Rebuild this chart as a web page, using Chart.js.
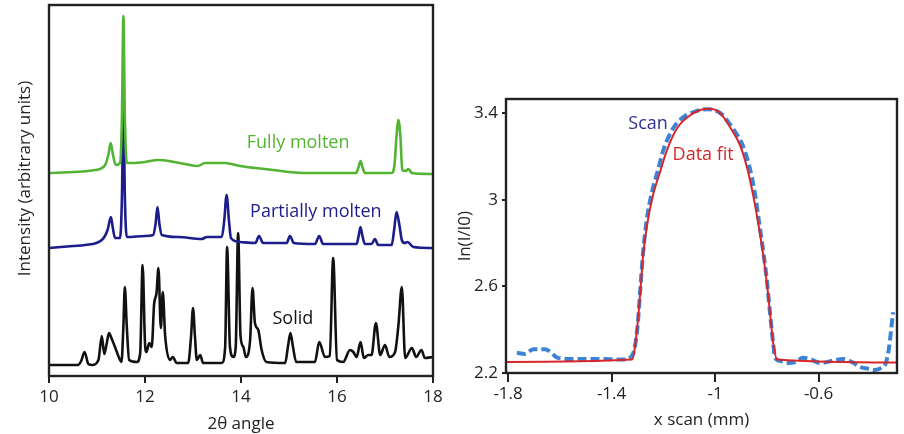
<!DOCTYPE html>
<html lang="en">
<head>
<meta charset="UTF-8">
<title>XRD patterns and scan profile</title>
<script src="https://cdn.jsdelivr.net/npm/chart.js"></script>
<style>
  html, body { margin: 0; padding: 0; background: #fff; }
  #wrap { position: relative; width: 904px; height: 434px; }
  #xrdBox { position: absolute; left: 0; top: 0; width: 450px; height: 434px; }
  #scanBox { position: absolute; left: 450px; top: 0; width: 454px; height: 434px; }
</style>
</head>
<body>
<div id="wrap">
  <div id="xrdBox"><canvas id="xrdChart" width="450" height="434"></canvas></div>
  <div id="scanBox"><canvas id="scanChart" width="454" height="434"></canvas></div>
</div>
<script>
// left panel: [2theta, intensity] pairs, arbitrary units, curves stacked as in the figure
const fullyMolten = [[10.0,203],[10.5,204],[10.96,206],[11.17,211],[11.24,222],[11.285,233],[11.33,222],[11.39,211],
  [11.48,213],[11.52,260],[11.55,360],[11.58,260],[11.62,213],[11.72,213],[12.0,214],[12.27,216],[12.5,215],
  [12.83,212],[13.1,210],[13.25,213],[13.67,213],[13.98,210],[14.3,208],[14.67,206],[15.0,204],[15.37,203],
  [16.0,203],[16.4,203],[16.45,209],[16.49,215],[16.53,209],[16.58,203],[17.14,203],[17.2,212],[17.24,240],
  [17.28,256],[17.32,240],[17.36,206],[17.43,205],[17.49,207],[17.56,203],[18.0,202]];

const partiallyMolten = [[10.0,128],[10.5,130],[10.75,131],[11.1,136],[11.22,146],[11.29,159],[11.33,148],[11.375,138],
  [11.48,138],[11.52,180],[11.55,276],[11.58,180],[11.62,139],[12.0,140],[12.17,141],[12.22,152],[12.26,169],
  [12.3,152],[12.35,141],[12.69,139],[13.18,137],[13.29,139],[13.6,139],[13.65,155],[13.7,181],[13.75,155],
  [13.79,138],[13.98,134],[14.3,133],[14.375,140],[14.46,133],[14.95,133],[15.02,140],[15.1,133],[15.54,132],
  [15.63,140],[15.71,132],[16.41,132],[16.45,140],[16.49,149],[16.53,140],[16.58,132],[16.72,132],[16.79,137],
  [16.86,131],[17.14,131],[17.19,146],[17.24,164],[17.3,151],[17.35,136],[17.41,133],[17.47,134],[17.59,129],
  [18.0,128]];

const solid = [[10.0,11],[10.6,11],[10.67,15],[10.74,24],[10.82,12],[10.9,11],[11.03,16],[11.1,40],[11.15,22],
  [11.2,32],[11.25,43],[11.3,38],[11.375,29],[11.48,16],[11.51,14],[11.55,50],[11.58,89],[11.62,50],[11.67,16],
  [11.83,14],[11.9,23],[11.95,111],[12.0,33],[12.03,24],[12.09,33],[12.14,29],[12.19,72],[12.24,83],[12.28,108],
  [12.33,48],[12.37,84],[12.42,40],[12.52,16],[12.58,19],[12.66,13],[12.9,13],[12.96,40],[13.0,68],[13.04,40],
  [13.08,16],[13.15,21],[13.21,13],[13.6,13],[13.67,29],[13.71,129],[13.77,29],[13.84,19],[13.89,29],[13.94,143],
  [13.99,40],[14.05,29],[14.1,19],[14.19,36],[14.24,88],[14.29,53],[14.36,46],[14.43,26],[14.53,14],[14.92,13],
  [14.98,30],[15.03,43],[15.08,30],[15.15,14],[15.54,14],[15.63,34],[15.75,19],[15.85,20],[15.92,118],[16.0,16],
  [16.13,14],[16.27,26],[16.34,24],[16.41,19],[16.49,34],[16.56,18],[16.65,21],[16.72,21],[16.81,53],[16.9,21],
  [17.0,31],[17.09,19],[17.21,24],[17.28,51],[17.35,89],[17.42,18],[17.56,28],[17.65,19],[17.76,26],[17.83,18],
  [18.0,19]];

const xrdTicks = [10, 12, 14, 16, 18];

// right panel: [x scan (mm), ln(I/I0)] pairs
const dataFit = [[-1.808,2.251],[-1.321,2.262],[-1.301,2.408],[-1.29,2.56],[-1.278,2.745],[-1.263,2.883],
  [-1.24,3.021],[-1.213,3.127],[-1.186,3.229],[-1.147,3.33],[-1.108,3.38],[-1.058,3.414],[-1.019,3.42],
  [-0.981,3.4],[-0.942,3.335],[-0.903,3.25],[-0.876,3.146],[-0.853,3.021],[-0.834,2.897],[-0.814,2.745],
  [-0.799,2.606],[-0.787,2.468],[-0.776,2.343],[-0.76,2.262],[-0.297,2.248]];

const scan = [[-1.766,2.293],[-1.734,2.288],[-1.703,2.31],[-1.657,2.31],[-1.607,2.27],[-1.55,2.265],[-1.45,2.265],
  [-1.35,2.262],[-1.317,2.29],[-1.3,2.41],[-1.29,2.57],[-1.278,2.76],[-1.265,2.9],[-1.245,3.03],[-1.22,3.14],
  [-1.2,3.229],[-1.162,3.33],[-1.124,3.38],[-1.07,3.41],[-1.03,3.418],[-0.98,3.4],[-0.935,3.335],[-0.893,3.25],
  [-0.866,3.146],[-0.845,3.021],[-0.83,2.897],[-0.812,2.745],[-0.798,2.606],[-0.787,2.468],[-0.776,2.343],
  [-0.768,2.27],[-0.745,2.255],[-0.722,2.246],[-0.69,2.25],[-0.66,2.27],[-0.625,2.26],[-0.594,2.246],
  [-0.55,2.255],[-0.505,2.265],[-0.47,2.25],[-0.44,2.228],[-0.4,2.218],[-0.382,2.214],[-0.355,2.225],
  [-0.343,2.237],[-0.33,2.3],[-0.312,2.48]];

const scanXTicks = [-1.8, -1.4, -1, -0.6];
const scanYTicks = [2.2, 2.6, 3, 3.4];

const FONT = { family: "'Open Sans', sans-serif", size: 17 };
const NOTE_SIZE = 18;
const INK = '#222';

// box round the plot area
const frame = {
  id: 'frame',
  afterDatasetsDraw(chart) {
    const { ctx, chartArea: a } = chart;
    ctx.save();
    ctx.lineWidth = 2.4;
    ctx.strokeStyle = INK;
    ctx.strokeRect(a.left, a.top, a.right - a.left, a.bottom - a.top);
    ctx.restore();
  }
};

// text labels placed in data coordinates
function notes(items) {
  return {
    id: 'notes',
    afterDatasetsDraw(chart) {
      const { ctx, scales } = chart;
      ctx.save();
      ctx.font = NOTE_SIZE + 'px ' + FONT.family;
      ctx.textAlign = 'center';
      ctx.textBaseline = 'middle';
      items.forEach(it => {
        ctx.fillStyle = it.color;
        ctx.fillText(it.text, scales.x.getPixelForValue(it.x), scales.y.getPixelForValue(it.y));
      });
      ctx.restore();
    }
  };
}

// rotated y title for the left panel (axis itself is hidden)
const sideTitle = {
  id: 'sideTitle',
  afterDraw(chart) {
    const { ctx, chartArea: a } = chart;
    ctx.save();
    ctx.font = FONT.size + 'px ' + FONT.family;
    ctx.fillStyle = INK;
    ctx.textAlign = 'center';
    ctx.textBaseline = 'middle';
    ctx.translate(a.left - 24, (a.top + a.bottom) / 2 - 12);
    ctx.rotate(-Math.PI / 2);
    ctx.fillText('Intensity (arbitrary units)', 0, 0);
    ctx.restore();
  }
};

const fixTicks = list => axis => { axis.ticks = list.map(v => ({ value: v })); };

function line(label, data, color, width, dash) {
  return {
    label, data,
    borderColor: color,
    borderWidth: width,
    borderDash: dash || [],
    borderJoinStyle: 'round',
    borderCapStyle: dash ? 'butt' : 'round',
    pointRadius: 0,
    cubicInterpolationMode: 'monotone',
    fill: false
  };
}

new Chart(document.getElementById('xrdChart'), {
  type: 'line',
  data: {
    datasets: [
      line('Fully molten', fullyMolten, '#52b432', 2.6),
      line('Partially molten', partiallyMolten, '#1c1c8c', 2.6),
      line('Solid', solid, '#111111', 2.6)
    ]
  },
  options: {
    responsive: false,
    animation: false,
    layout: { padding: { left: 49, right: 17, top: 5, bottom: 0 } },
    plugins: { legend: { display: false }, tooltip: { enabled: false } },
    scales: {
      x: {
        type: 'linear', min: 10, max: 18,
        afterBuildTicks: fixTicks(xrdTicks),
        afterFit: axis => { axis.height = 58; },
        grid: { drawOnChartArea: false, tickLength: 7, color: INK, lineWidth: 2 },
        border: { display: false },
        ticks: { color: INK, font: FONT, padding: 4, callback: v => String(v) },
        title: { display: true, text: '2θ angle', color: INK, font: FONT, padding: { top: 0, bottom: 0 } }
      },
      y: { type: 'linear', display: false, min: 0, max: 371 }
    }
  },
  plugins: [frame, sideTitle, notes([
    { text: 'Fully molten', x: 15.19, y: 233, color: '#52b432' },
    { text: 'Partially molten', x: 15.56, y: 164, color: '#1c1c8c' },
    { text: 'Solid', x: 15.08, y: 57, color: '#111111' }
  ])]
});

new Chart(document.getElementById('scanChart'), {
  type: 'line',
  data: {
    datasets: [
      line('Data fit', dataFit, '#d7262b', 2),
      line('Scan', scan, '#3d84d4', 4, [9, 4])
    ]
  },
  options: {
    responsive: false,
    animation: false,
    layout: { padding: { left: 0, right: 7, top: 99, bottom: 0 } },
    plugins: { legend: { display: false }, tooltip: { enabled: false } },
    scales: {
      x: {
        type: 'linear', min: -1.808, max: -0.297,
        afterBuildTicks: fixTicks(scanXTicks),
        afterFit: axis => { axis.height = 61; },
        grid: { drawOnChartArea: false, tickLength: 9, color: INK, lineWidth: 2 },
        border: { display: false },
        ticks: { color: INK, font: FONT, padding: 2, callback: v => String(v) },
        title: { display: true, text: 'x scan (mm)', color: INK, font: FONT, padding: { top: 0, bottom: 4 } }
      },
      y: {
        type: 'linear', min: 2.2, max: 3.465,
        afterBuildTicks: fixTicks(scanYTicks),
        afterFit: axis => { axis.width = 56; },
        grid: { drawOnChartArea: false, tickLength: 4, color: INK, lineWidth: 2 },
        border: { display: false },
        ticks: { color: INK, font: FONT, padding: 4, callback: v => String(v) },
        title: { display: true, text: 'ln(I/I0)', color: INK, font: FONT, padding: { top: 5, bottom: 0 } }
      }
    }
  },
  plugins: [frame, notes([
    { text: 'Scan', x: -1.259, y: 3.349, color: '#2e3192' },
    { text: 'Data fit', x: -1.046, y: 3.206, color: '#d6262c' }
  ])]
});
</script>
</body>
</html>
